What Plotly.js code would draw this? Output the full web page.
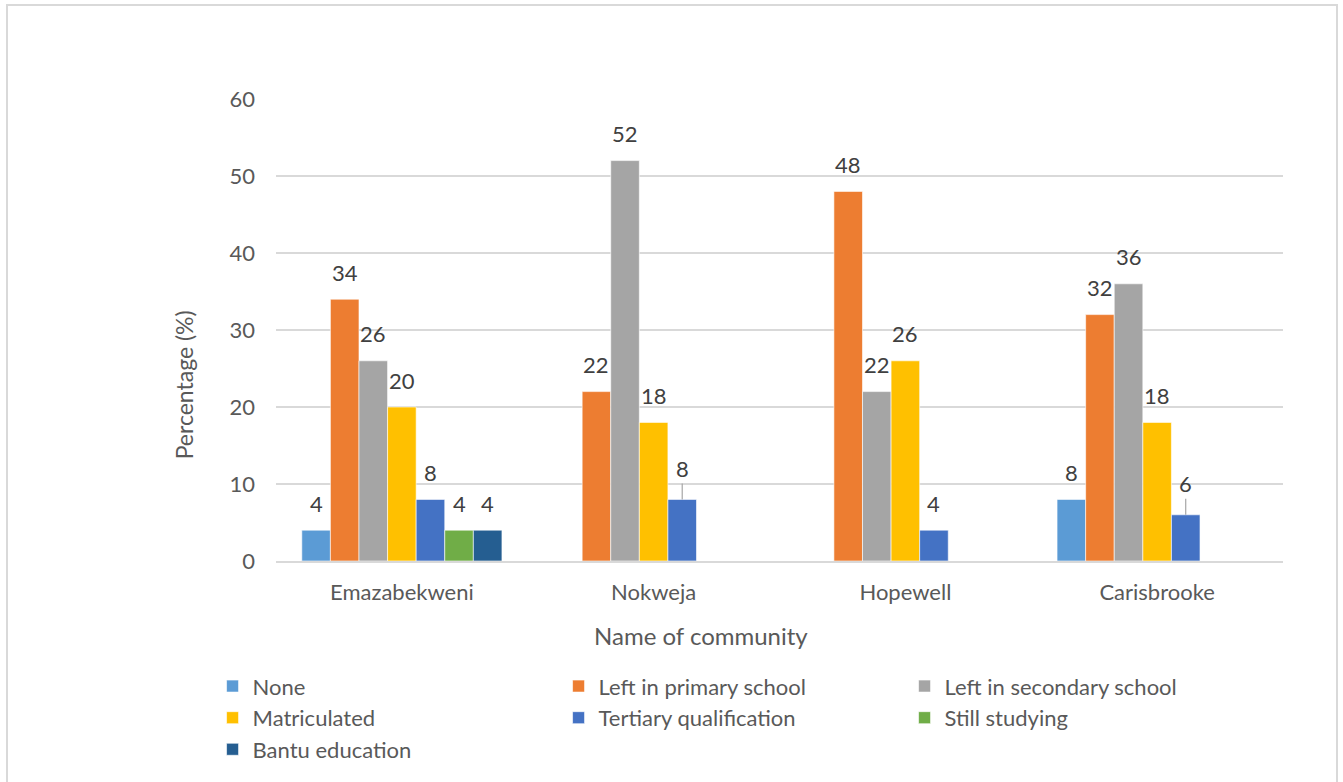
<!DOCTYPE html>
<html>
<head>
<meta charset="utf-8">
<script src="https://cdn.plot.ly/plotly-3.0.1.min.js"></script>
<style>
  html, body { margin: 0; padding: 0; background: #fff; }
  #wrap { position: relative; width: 1343px; height: 782px; overflow: hidden; }
  #chart { position: absolute; left: 0; top: 0; width: 1343px; height: 782px; }
  #frame { position: absolute; left: 6px; top: 4px; width: 1328px; height: 800px;
           border: 2px solid #d9d9d9; pointer-events: none; }
</style>
</head>
<body>
<div id="wrap">
  <div id="chart"></div>
  <div id="frame"></div>
</div>
<script>
// Highest level of education by community (percent of respondents)
const communities = ['Emazabekweni', 'Nokweja', 'Hopewell', 'Carisbrooke'];
const seriesNames = ['None', 'Left in primary school', 'Left in secondary school',
                     'Matriculated', 'Tertiary qualification', 'Still studying', 'Bantu education'];
const none        = [4, null, null, 8];
const primary     = [34, 22, 48, 32];
const secondary   = [26, 52, 22, 36];
const matriculated = [20, 18, 26, 18];
const tertiary    = [8, 8, 4, 6];
const stillStudying = [4, null, null, null];
const bantu       = [4, null, null, null];
const yTicks = [0, 10, 20, 30, 40, 50, 60];
const xTitle = 'Name of community';
const yTitle = 'Percentage (%)';

const seriesValues = [none, primary, secondary, matriculated, tertiary, stillStudying, bantu];
const colors = ['#5B9BD5', '#ED7D31', '#A5A5A5', '#FFC000', '#4472C4', '#70AD47', '#255E91'];

// labels drawn with a short leader line to the bar (community index, series index)
const leaderLabels = [[1, 4], [3, 4]];

const FONT = 'Lato, "Open Sans", sans-serif';
const TEXT = '#595959';
const bargap = 0.205;
const nSeries = seriesNames.length;
const slot = (1 - bargap) / nSeries;

const traces = seriesValues.map((vals, i) => ({
  type: 'bar',
  name: seriesNames[i],
  x: communities,
  y: vals,
  marker: { color: colors[i], line: { color: '#ffffff', width: 0.6 } },
  hoverinfo: 'x+y+name'
}));

const annotations = [];
seriesValues.forEach((vals, i) => {
  vals.forEach((v, c) => {
    if (v === null) return;
    const xPos = c + (i - (nSeries - 1) / 2) * slot;
    const leader = leaderLabels.some(p => p[0] === c && p[1] === i);
    const base = {
      x: xPos, y: v, xref: 'x', yref: 'y', text: String(v),
      font: { family: FONT, size: 22, color: '#404040' }
    };
    if (leader) {
      annotations.push(Object.assign(base, {
        showarrow: true, arrowhead: 0, arrowwidth: 1.2,
        arrowcolor: '#a6a6a6', ax: 0, ay: -31, standoff: 0
      }));
    } else {
      annotations.push(Object.assign(base, {
        showarrow: false, yanchor: 'middle', yshift: 27
      }));
    }
  });
});

// axis titles
annotations.push({
  xref: 'paper', yref: 'paper', x: 0.422, y: -0.162, yanchor: 'middle',
  text: xTitle, showarrow: false,
  font: { family: FONT, size: 24, color: TEXT }
});
annotations.push({
  xref: 'paper', yref: 'paper', x: -0.091, y: 0.381, xanchor: 'center', yanchor: 'middle',
  text: yTitle, showarrow: false, textangle: -90,
  font: { family: FONT, size: 23, color: TEXT }
});

const layout = {
  width: 1343, height: 782,
  margin: { l: 276, r: 60, t: 99, b: 221 },
  paper_bgcolor: '#ffffff', plot_bgcolor: '#ffffff',
  font: { family: FONT, size: 22, color: TEXT },
  barmode: 'group', bargap: bargap, bargroupgap: 0,
  showlegend: true,
  xaxis: {
    type: 'category',
    showgrid: false, zeroline: false,
    showline: true, linecolor: '#d9d9d9', linewidth: 1.5,
    ticks: '', ticklabelstandoff: 11,
    tickfont: { family: FONT, size: 22, color: TEXT },
    automargin: false
  },
  yaxis: {
    range: [0, 60], tickvals: yTicks,
    showgrid: true, gridcolor: '#d9d9d9', gridwidth: 1.5,
    zeroline: false, showline: false, ticks: '', ticklabelstandoff: 20,
    tickfont: { family: FONT, size: 22, color: TEXT },
    automargin: false
  },
  legend: {
    orientation: 'h',
    x: -0.063, xanchor: 'left',
    y: -0.2257, yanchor: 'top',
    entrywidth: 301, entrywidthmode: 'pixels',
    font: { family: FONT, size: 22, color: TEXT },
    itemwidth: 30, traceorder: 'normal',
    tracegroupgap: 0
  },
  annotations: annotations
};

Plotly.newPlot('chart', traces, layout, { displayModeBar: false, staticPlot: true });
</script>
</body>
</html>
